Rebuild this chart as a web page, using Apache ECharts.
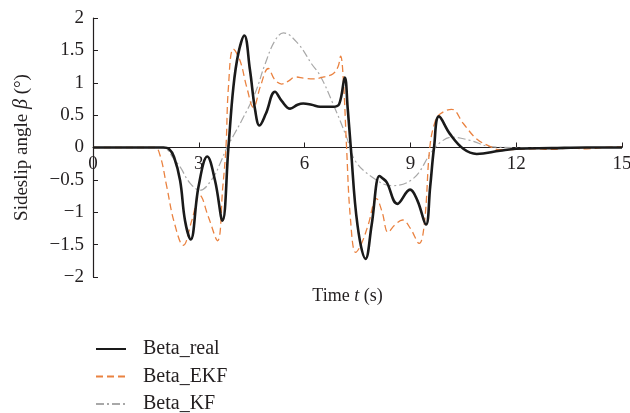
<!DOCTYPE html>
<html>
<head>
<meta charset="utf-8">
<script src="https://cdn.jsdelivr.net/npm/echarts@6/dist/echarts.min.js"></script>
<style>
html,body{margin:0;padding:0;background:#fff;}
#chart{width:630px;height:413px;}
</style>
</head>
<body>
<div id="chart"></div>
<script>
// Time samples and values
var tReal = [0,1,2.0,2.15,2.3,2.47,2.61,2.77,2.99,3.24,3.46,3.67,3.84,3.98,4.12,4.29,4.45,4.6,4.72,4.9,5.16,5.35,5.59,5.8,5.96,6.2,6.44,6.81,6.98,7.14,7.22,7.31,7.5,7.73,7.9,8.12,8.2,8.33,8.63,8.99,9.2,9.44,9.56,9.67,9.81,10.12,10.5,10.88,11.54,12,13,14,15];
var betaReal = [0,0,0,-0.02,-0.15,-0.51,-1.13,-1.42,-0.61,-0.14,-0.51,-1.13,0,0.93,1.45,1.73,1.2,0.57,0.34,0.52,0.86,0.72,0.60,0.66,0.68,0.66,0.63,0.63,0.67,1.08,0.62,0,-1.2,-1.72,-1.2,-0.44,-0.47,-0.54,-0.87,-0.65,-0.82,-1.19,-0.61,0,0.48,0.21,-0.02,-0.10,-0.05,-0.02,-0.01,0,0];

var tEKF = [0,1.75,1.9,2.09,2.3,2.56,2.8,3.03,3.27,3.53,3.68,3.77,3.84,3.98,4.17,4.36,4.55,4.75,4.97,5.15,5.35,5.55,5.73,6.0,6.25,6.55,6.81,6.95,7.02,7.1,7.19,7.3,7.45,7.6,7.8,8.04,8.2,8.37,8.55,8.78,9.0,9.25,9.4,9.55,9.7,9.85,10.17,10.5,10.88,11.21,11.54,12,12.5,13,13.5,14,14.5,15];
var betaEKF = [0,0,-0.12,-0.6,-1.15,-1.51,-1.13,-0.74,-1.07,-1.44,-0.61,0,0.93,1.52,1.34,0.93,0.62,0.95,1.22,1.05,0.98,1.03,1.09,1.07,1.06,1.09,1.14,1.25,1.41,1.03,0,-1.1,-1.62,-1.5,-1.2,-0.79,-1.0,-1.31,-1.2,-1.12,-1.25,-1.48,-1.15,0,0.4,0.52,0.59,0.37,0.13,0.03,-0.035,-0.03,-0.02,-0.03,-0.01,-0.02,0,0.01];

var tKF = [0,1.9,2.1,2.28,2.47,2.75,3.03,3.41,3.6,3.8,4.0,4.22,4.59,4.88,5.16,5.4,5.82,6.2,6.44,6.81,7.19,7.43,7.9,8.47,9.08,9.6,9.9,10.17,10.69,11.26,12,15];
var betaKF = [0,0,-0.03,-0.17,-0.30,-0.55,-0.66,-0.46,-0.25,0,0.2,0.42,0.83,1.29,1.65,1.77,1.60,1.29,1.11,0.67,0.16,-0.2,-0.45,-0.59,-0.48,-0.07,0.1,0.16,0.11,0.015,0,0];

var seriesNames = ['Beta_real','Beta_EKF','Beta_KF'];
var xTicks = {min:0, max:15, interval:3};
var yTicks = {min:-2, max:2, interval:0.5};

function pairs(t, v){ return t.map(function(x,i){ return [x, v[i]]; }); }

var FONT = 'Liberation Serif';
var TXT = '#231f20';

var chart = echarts.init(document.getElementById('chart'), null, {renderer:'canvas'});
chart.setOption({
  animation:false,
  backgroundColor:'#fff',
  textStyle:{fontFamily:FONT, color:TXT},
  grid:{left:93, right:8, top:18, bottom:136, containLabel:false, outerBoundsMode:'none'},
  legend:{
    orient:'vertical', left:95, top:339, padding:0, height:90,
    itemWidth:30, itemHeight:20, itemGap:7.5,
    itemStyle:{opacity:0},
    textStyle:{fontFamily:FONT, fontSize:20, color:TXT, padding:[0,0,0,12], lineHeight:20},
    data:seriesNames
  },
  xAxis:{
    type:'value', min:xTicks.min, max:xTicks.max, interval:xTicks.interval,
    position:'bottom', offset:-129.5,
    axisLine:{onZero:false, lineStyle:{color:TXT, width:1.2}},
    axisTick:{inside:true, length:5, lineStyle:{color:TXT}},
    axisLabel:{margin:7, fontFamily:FONT, fontSize:19, color:TXT},
    splitLine:{show:false},
    name:'{n|Time }{i|t}{n| (s)}',
    nameLocation:'middle', nameGap:140,
    nameTextStyle:{padding:[0,20,0,0], rich:{n:{fontFamily:FONT,fontSize:18,color:TXT}, i:{fontFamily:FONT,fontSize:18,fontStyle:'italic',color:TXT}}}
  },
  yAxis:{
    type:'value', min:yTicks.min, max:yTicks.max, interval:yTicks.interval,
    axisLine:{show:true, onZero:false, lineStyle:{color:TXT, width:1.2}},
    axisTick:{show:true, inside:true, length:5, lineStyle:{color:TXT}},
    axisLabel:{margin:9, fontFamily:FONT, fontSize:19, color:TXT,
      formatter:function(v){ return String(v).replace('-', '\u2212'); }},
    splitLine:{show:false},
    name:'{n|Sideslip angle }{i|\u03b2}{n| (\u00b0)}',
    nameLocation:'middle', nameGap:61, nameRotate:90,
    nameTextStyle:{rich:{n:{fontFamily:FONT,fontSize:19,color:TXT}, i:{fontFamily:FONT,fontSize:20,fontStyle:'italic',color:TXT}}}
  },
  series:[
    {name:seriesNames[0], type:'line', data:pairs(tReal,betaReal), showSymbol:false, symbol:'none',
     smooth:0.4, z:5, lineStyle:{color:'#1a1a1a', width:2.6}, itemStyle:{color:'#1a1a1a'}},
    {name:seriesNames[1], type:'line', data:pairs(tEKF,betaEKF), showSymbol:false, symbol:'none',
     smooth:0.4, z:4, lineStyle:{color:'#ea8240', width:1.3, type:[7,4]}, itemStyle:{color:'#ea8240'}},
    {name:seriesNames[2], type:'line', data:pairs(tKF,betaKF), showSymbol:false, symbol:'none',
     smooth:0.4, z:3, lineStyle:{color:'#a8a8a8', width:1.2, type:[8,3,2,3]}, itemStyle:{color:'#a8a8a8'}}
  ]
});
</script>
</body>
</html>
